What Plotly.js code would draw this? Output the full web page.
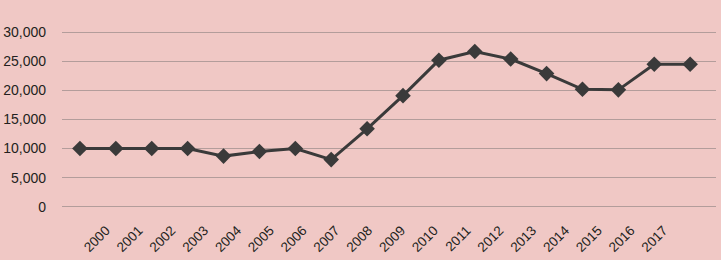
<!DOCTYPE html>
<html>
<head>
<meta charset="utf-8">
<script src="https://cdn.plot.ly/plotly-3.0.1.min.js"></script>
<style>html,body{margin:0;padding:0;background:#f0c8c5;}</style>
</head>
<body>
<div id="chart" style="width:721px;height:260px;"></div>
<script>
const years = ["2000","2001","2002","2003","2004","2005","2006","2007","2008","2009","2010","2011","2012","2013","2014","2015","2016","2017"];
const values = [10000,10000,10000,10000,8700,9500,10000,8100,13400,19100,25200,26700,25400,22900,20200,20100,24500,24500];
const yTicks = [0,5000,10000,15000,20000,25000,30000];
const yTickText = ["0","5,000","10,000","15,000","20,000","25,000","30,000"];

const font = "Liberation Sans, Arial, sans-serif";
const idx = years.map((_, i) => i);
Plotly.newPlot("chart", [{
  x: idx,
  y: values,
  type: "scatter",
  mode: "lines+markers",
  line: {color: "#3a3a3a", width: 3},
  marker: {symbol: "diamond", size: 12, color: "#3a3a3a"},
  hoverinfo: "skip"
}, {
  // invisible carrier trace so the label axis is drawn
  x: idx,
  y: values,
  xaxis: "x2",
  type: "scatter",
  mode: "markers",
  marker: {opacity: 0, size: 1},
  hoverinfo: "skip"
}], {
  width: 721, height: 260,
  margin: {l: 62, r: 5, t: 30, b: 51},
  paper_bgcolor: "#f0c8c5",
  plot_bgcolor: "#f0c8c5",
  showlegend: false,
  font: {family: font, size: 14, color: "#231f20"},
  xaxis: {
    range: [-0.5, 17.72],
    showticklabels: false,
    showgrid: false, zeroline: false, showline: false, ticks: ""
  },
  xaxis2: {
    overlaying: "x", anchor: "y", side: "bottom",
    range: [-1.341, 18.598],
    tickvals: idx,
    ticktext: years,
    tickangle: -45,
    ticklabelstandoff: 10,
    showgrid: false, zeroline: false, showline: false, ticks: "",
    tickfont: {family: font, size: 13.5, color: "#231f20"}
  },
  yaxis: {
    range: [-400, 30400],
    tickvals: yTicks,
    ticktext: yTickText,
    showgrid: true, gridcolor: "#b39d9b", gridwidth: 1,
    zeroline: false, showline: false, ticks: "",
    ticklabelstandoff: 15,
    tickfont: {family: font, size: 14, color: "#231f20"}
  }
}, {displayModeBar: false, staticPlot: true});
</script>
</body>
</html>
